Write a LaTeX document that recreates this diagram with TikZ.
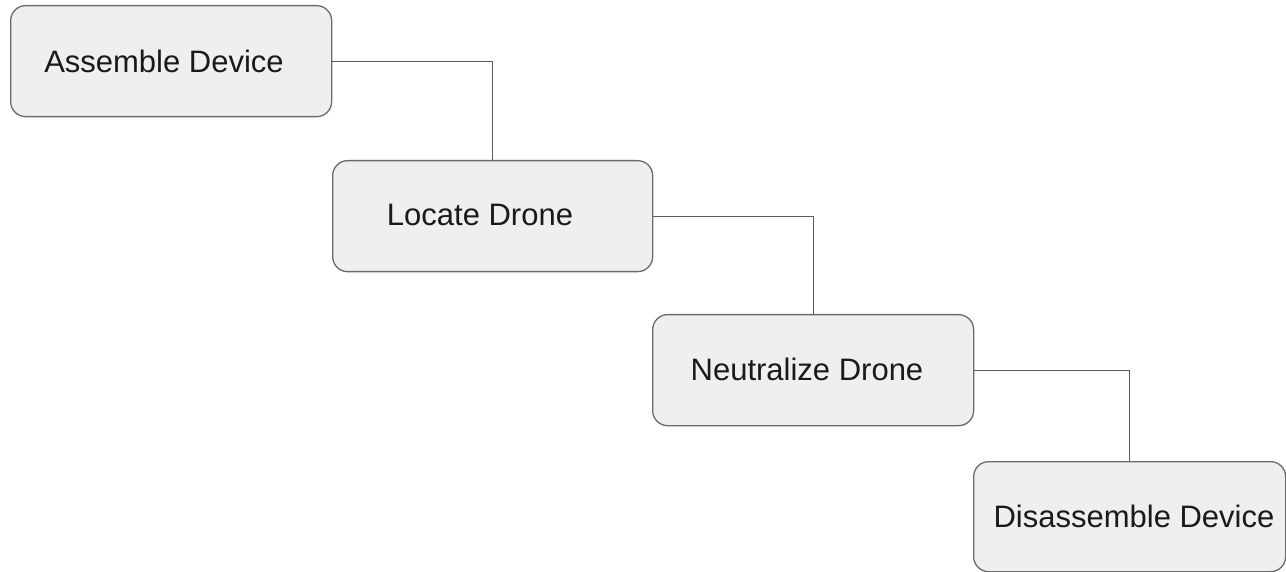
\documentclass[tikz,border=0pt]{standalone}
\usepackage{fontspec}
\setmainfont{Liberation Sans}
\definecolor{boxfill}{HTML}{EFEFEF}
\definecolor{boxline}{HTML}{6B6B6B}
\definecolor{wire}{HTML}{5A5A5A}
\definecolor{ink}{HTML}{1A1A1A}
\begin{document}
\begin{tikzpicture}[x=1pt,y=-1pt,
  stepbox/.style={draw=boxline, fill=boxfill, line width=1.3pt,
    rounded corners=15pt, inner sep=0pt, anchor=north west},
  steplabel/.style={text=ink, font=\fontsize{31}{36}\selectfont, inner sep=0pt},
  wireline/.style={draw=wire, line width=1.2pt}]
  \useasboundingbox (0,0) rectangle (1286,572);

  % step boxes
  \node[stepbox, minimum width=321pt, minimum height=111pt] (b1) at (10,5) {};
  \node[stepbox, minimum width=320pt, minimum height=111pt] (b2) at (332,160) {};
  \node[stepbox, minimum width=321pt, minimum height=111pt] (b3) at (652,314) {};
  \node[stepbox, minimum width=312pt, minimum height=110pt] (b4) at (973,461) {};

  % step labels
  \node[steplabel] (t1) at (164,61) {Assemble Device};
  \node[steplabel] (t2) at (480,215) {Locate Drone};
  \node[steplabel] (t3) at (807,369) {Neutralize Drone};
  \node[steplabel] (t4) at (1134,516) {Disassemble Device};

  % elbow connectors between consecutive steps
  \draw[wireline] (b1.east) -| (b2.north);
  \draw[wireline] (b2.east) -| (b3.north);
  \draw[wireline] (b3.east) -| (b4.north);
\end{tikzpicture}
\end{document}
